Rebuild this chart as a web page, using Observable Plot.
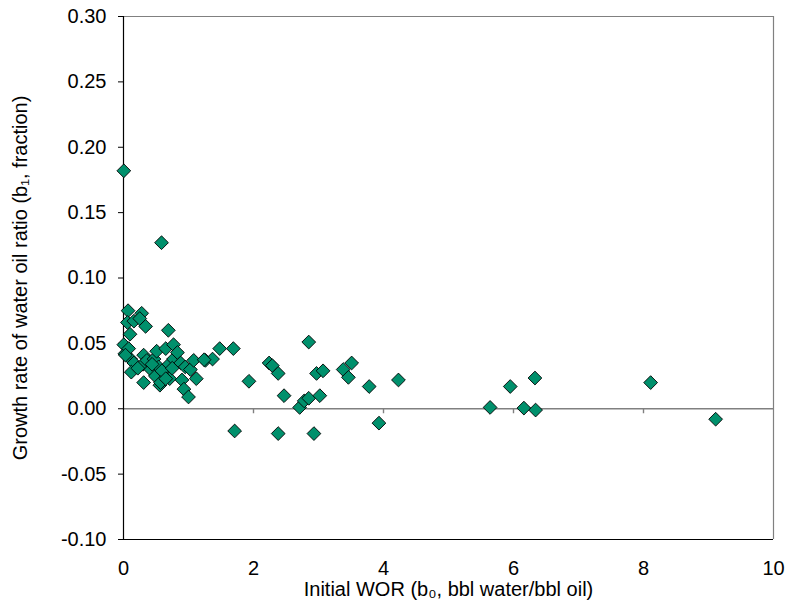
<!DOCTYPE html>
<html>
<head>
<meta charset="utf-8">
<script src="https://cdn.jsdelivr.net/npm/d3@7"></script>
<script src="https://cdn.jsdelivr.net/npm/@observablehq/plot@0.6"></script>
<style>
  body { margin: 0; background: #fff; }
  svg { font-family: "Liberation Sans", Arial, sans-serif; }
</style>
</head>
<body>
<div id="chart"></div>
<script>
// Initial WOR (b0) values
const worValues = [
  0.005, 0.585, 0.07, 0.28, 0.06, 0.16, 0.25, 0.34, 0.10, 0.69,
  0.005, 0.02, 0.11, 0.16, 0.12, 0.31, 0.31, 0.30, 0.22, 0.36,
  0.42, 0.47, 0.51, 0.49, 0.56, 0.54, 0.62, 0.65, 0.70, 0.71,
  0.77, 0.77, 0.83, 0.88, 0.90, 0.93, 0.95, 1.00, 1.03, 1.08,
  1.12, 1.26, 1.37, 1.48, 1.69, 1.71, 1.93, 0.08, 0.44, 0.03,
  0.59, 0.75, 1.24, 0.57, 0.65,
  2.24, 2.29, 2.38, 2.47, 2.38, 2.85, 2.71, 2.78, 2.85, 3.02,
  2.97, 3.07, 2.93, 3.38, 3.51, 3.46, 3.78, 3.93, 4.23, 5.64,
  5.95, 6.33, 6.16, 6.34, 8.11, 9.11
];
// Growth rate (b1) values
const growthValues = [
  0.182, 0.127, 0.075, 0.073, 0.066, 0.067, 0.069, 0.063, 0.057, 0.060,
  0.049, 0.042, 0.038, 0.035, 0.028, 0.020, 0.041, 0.034, 0.031, 0.037,
  0.030, 0.038, 0.044, 0.025, 0.018, 0.032, 0.029, 0.046, 0.034, 0.023,
  0.049, 0.038, 0.043, 0.035, 0.022, 0.015, 0.032, 0.009, 0.030, 0.037,
  0.023, 0.037, 0.038, 0.046, 0.046, -0.017, 0.021, 0.046, 0.034, 0.041,
  0.029, 0.031, 0.0375, 0.020, 0.023,
  0.035, 0.033, 0.027, 0.010, -0.019, 0.051, 0.001, 0.006, 0.008, 0.010,
  0.027, 0.029, -0.019, 0.030, 0.035, 0.024, 0.017, -0.011, 0.022, 0.001,
  0.017, 0.0235, 0.0005, -0.001, 0.020, -0.008
];
const xTicks = [0, 2, 4, 6, 8, 10];
const yTicks = [-0.10, -0.05, 0.00, 0.05, 0.10, 0.15, 0.20, 0.25, 0.30];
const xTitle = "Initial WOR (b\u2080, bbl water/bbl oil)";
const yTitle = "Growth rate of water oil ratio (b\u2081, fraction)";

const points = worValues.map((x, i) => ({x, y: growthValues[i]}));

const chart = Plot.plot({
  width: 787,
  height: 615,
  marginLeft: 123,
  marginRight: 14,
  marginTop: 16,
  marginBottom: 76,
  style: {fontFamily: "Liberation Sans, Arial, sans-serif", fontSize: "20px", color: "#000", background: "#fff"},
  x: {domain: [0, 10]},
  y: {domain: [-0.1, 0.3]},
  marks: [
    // frame
    Plot.ruleY([0.3], {stroke: "#808080", strokeWidth: 1.2}),
    Plot.ruleX([10], {stroke: "#808080", strokeWidth: 1.2}),
    Plot.ruleY([0], {stroke: "#808080", strokeWidth: 1.4}),
    // x ticks on zero line
    Plot.ruleX(xTicks.slice(1, 5), {y1: d => 0, y2: d => 0, insetBottom: -5, stroke: "#808080", strokeWidth: 1.4}),
    Plot.axisY({ticks: yTicks, tickSize: 5, tickPadding: 12, tickFormat: d => d.toFixed(2), label: null, fontSize: 20, stroke: "#000"}),
    Plot.axisX({ticks: xTicks, tickSize: 0, tickPadding: 21, tickFormat: d => String(d), label: null, fontSize: 20}),
    Plot.ruleY([-0.1], {stroke: "#000", strokeWidth: 1.2}),
    Plot.ruleX([0], {stroke: "#000", strokeWidth: 1.2}),
    Plot.dot(points, {x: "x", y: "y", symbol: "diamond2", r: 6.2, fill: "#00906C", stroke: "#000", strokeWidth: 0.9}),
    Plot.text([xTitle], {frameAnchor: "bottom", dy: 56, fontSize: 20, fill: "#000"}),
    Plot.text([yTitle], {frameAnchor: "left", rotate: -90, textAnchor: "middle", lineAnchor: "middle", dx: -103, fontSize: 20, fill: "#000"})
  ]
});
document.getElementById("chart").appendChild(chart);
</script>
</body>
</html>
